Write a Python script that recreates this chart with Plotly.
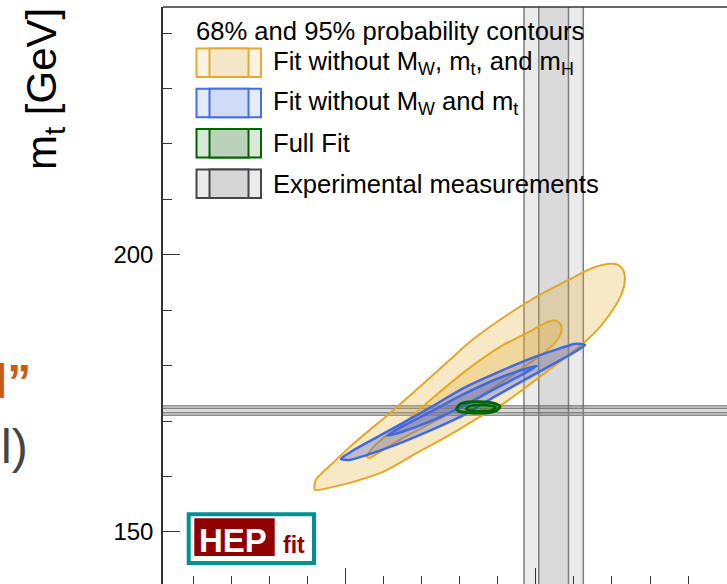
'''
    Builds the HEPfit-style M_W vs m_t plane: 68% and 95% probability
    contours of three fits on top of the experimental measurement bands.
'''

import plotly.graph_objects as go

# experimental measurements [GeV]
MW_EXP = 80.4093
MW_ERR = 0.0078
MT_EXP = 171.9
MT_ERR = 0.42

# contours, M_W [GeV] and m_t [GeV]
ORANGE_95_MW = [80.2837, 80.2842, 80.2932, 80.3021, 80.3126, 80.3216, 80.3389,
                80.3547, 80.3653, 80.3811, 80.3984, 80.4163, 80.4300, 80.4389,
                80.4432, 80.4458, 80.4468, 80.4453, 80.4405, 80.4337, 80.4253,
                80.4021, 80.3811, 80.3705, 80.3547, 80.3374, 80.3195, 80.3021,
                80.2932, 80.2837]
ORANGE_95_MT = [157.58, 159.39, 162.45, 165.34, 168.41, 170.94, 176.17,
                181.05, 184.30, 188.27, 192.06, 195.31, 197.65, 198.38,
                198.19, 197.29, 195.85, 193.14, 190.07, 187.00, 184.12,
                177.98, 172.74, 170.76, 167.51, 164.26, 160.83, 158.85,
                158.12, 157.58]

ORANGE_68_MW = [80.3111, 80.3137, 80.3205, 80.3284, 80.3458, 80.3637, 80.3811,
                80.3984, 80.4063, 80.4105, 80.4132, 80.4132, 80.4105, 80.4021,
                80.3900, 80.3758, 80.3600, 80.3442, 80.3284, 80.3179, 80.3126,
                80.3111]
ORANGE_68_MT = [163.54, 164.98, 167.15, 168.95, 174.19, 179.24, 183.39,
                186.46, 187.91, 188.09, 187.36, 185.92, 184.30, 181.77,
                178.88, 175.63, 172.38, 169.49, 166.61, 164.44, 163.36,
                163.54]

BLUE_95_MW = [80.2974, 80.3021, 80.3126, 80.3284, 80.3458, 80.3616, 80.3811,
              80.3984, 80.4126, 80.4211, 80.4258, 80.4211, 80.4105, 80.3947,
              80.3774, 80.3616, 80.3421, 80.3247, 80.3105, 80.3021, 80.2974]
BLUE_95_MT = [163.18, 164.33, 166.39, 169.35, 172.71, 175.90, 178.97,
              181.43, 183.12, 183.94, 183.75, 182.60, 180.54, 177.58,
              174.22, 171.03, 167.96, 165.51, 163.81, 162.99, 163.18]

BLUE_68_MW = [80.3216, 80.3284, 80.3442, 80.3611, 80.3784, 80.3916, 80.4005,
              80.3937, 80.3779, 80.3611, 80.3437, 80.3305, 80.3216]
BLUE_68_MT = [167.33, 168.75, 171.60, 174.70, 177.45, 179.12, 179.96,
              178.55, 175.70, 172.60, 169.85, 168.17, 167.33]

GREEN_95_MW = [80.3582, 80.3600, 80.3642, 80.3695, 80.3747, 80.3789, 80.3811,
               80.3795, 80.3753, 80.3695, 80.3637, 80.3595, 80.3582]
GREEN_95_MT = [172.20, 173.01, 173.43, 173.50, 173.41, 173.10, 172.65,
               171.93, 171.52, 171.43, 171.52, 171.75, 172.20]

GREEN_68_MW = [80.3632, 80.3653, 80.3711, 80.3768, 80.3789, 80.3768, 80.3711,
               80.3653, 80.3632]
GREEN_68_MT = [172.20, 172.74, 172.89, 172.74, 172.47, 171.93, 171.79,
               171.89, 172.20]

LEGEND_TITLE = '68% and 95% probability contours'
LEGEND_LABELS = ['Fit without M<sub>W</sub>, m<sub>t</sub>, and m<sub>H</sub>',
                 'Fit without M<sub>W</sub> and m<sub>t</sub>',
                 'Full Fit',
                 'Experimental measurements']

FONT = 'Liberation Sans, Arial, Helvetica, sans-serif'

# plot area in pixels (left, top, width, height)
PLOT_L, PLOT_T, PLOT_W, PLOT_H = 163, 7, 564, 577


def px(x):
    '''Pixel column -> paper x.'''
    return (x - PLOT_L) / PLOT_W


def py(y):
    '''Pixel row -> paper y.'''
    return (PLOT_T + PLOT_H - y) / PLOT_H


def init_figure():
    '''
        Sets up the axes so that only the left axis and the top frame
        are drawn, with inward ticks like the ROOT original.
    '''
    fig = go.Figure()
    fig.update_layout(
        width=727, height=584,
        margin=dict(l=PLOT_L, r=0, t=PLOT_T, b=0),
        paper_bgcolor='white', plot_bgcolor='white',
        font=dict(family=FONT, color='black'),
        showlegend=False,
        dragmode=False,
    )
    fig.update_xaxes(range=[80.2038, 80.5005], showgrid=False, zeroline=False,
                     showline=False, showticklabels=False,
                     ticks='inside', tick0=80.0, dtick=0.1, ticklen=16,
                     tickcolor='#333', tickwidth=1,
                     minor=dict(ticks='inside', dtick=0.02, ticklen=8,
                                tickcolor='#333', tickwidth=1))
    fig.update_yaxes(range=[140.6, 244.7], showgrid=False, zeroline=False,
                     showline=True, linecolor='#333', linewidth=1.5,
                     ticks='inside', tick0=0, dtick=50, ticklen=17,
                     tickcolor='#333', tickwidth=1,
                     ticklabelstandoff=3,
                     tickfont=dict(size=24, color='black'),
                     minor=dict(ticks='inside', dtick=10, ticklen=9,
                                tickcolor='#333', tickwidth=1))
    # top frame line
    fig.add_shape(type='line', xref='paper', yref='paper', x0=0, x1=1, y0=1, y1=1,
                  line=dict(color='#333', width=1.5), layer='above')
    return fig


def draw_bands(fig):
    '''Draws the 1 and 2 sigma bands of the measured M_W and m_t.'''
    band_fill = 'rgba(128,128,128,0.16)'
    band_line = dict(color='rgb(125,125,125)', width=1.5)
    for k in (2, 1):
        fig.add_vrect(x0=MW_EXP - k * MW_ERR, x1=MW_EXP + k * MW_ERR,
                      fillcolor=band_fill, line_width=0, layer='below')
        fig.add_hrect(y0=MT_EXP - k * MT_ERR, y1=MT_EXP + k * MT_ERR,
                      fillcolor=band_fill, line_width=0, layer='below')
    for k in (-2, -1, 1, 2):
        fig.add_vline(x=MW_EXP + k * MW_ERR, line=band_line, layer='below')
        fig.add_hline(y=MT_EXP + k * MT_ERR,
                      line=dict(color='rgb(90,90,90)', width=1), layer='below')
    return fig


def add_contour(fig, mw, mt, line_color, fill_color, width):
    '''Adds one filled probability contour.'''
    fig.add_trace(go.Scatter(x=mw, y=mt, mode='lines', fill='toself',
                             fillcolor=fill_color,
                             line=dict(color=line_color, width=width,
                                       shape='spline', smoothing=0.7),
                             hoverinfo='skip'))


def draw_contours(fig):
    orange, blue, green = 'rgb(226,168,40)', 'rgb(65,105,225)', 'rgb(0,100,0)'
    add_contour(fig, ORANGE_95_MW, ORANGE_95_MT, orange, 'rgba(225,170,45,0.27)', 2)
    add_contour(fig, ORANGE_68_MW, ORANGE_68_MT, orange, 'rgba(225,170,45,0.27)', 2)
    add_contour(fig, BLUE_95_MW, BLUE_95_MT, blue, 'rgba(80,100,210,0.33)', 2.5)
    add_contour(fig, BLUE_68_MW, BLUE_68_MT, blue, 'rgba(80,100,210,0.33)', 2.5)
    add_contour(fig, GREEN_95_MW, GREEN_95_MT, green, 'rgba(0,110,0,0.25)', 3)
    add_contour(fig, GREEN_68_MW, GREEN_68_MT, green, 'rgba(0,110,0,0.25)', 2.5)
    return fig


def draw_legend(fig):
    '''Hand-made legend: boxes with a dark 68% core and light 95% sides.'''
    colors = [('rgb(226,170,50)', 'rgb(250,243,228)', 'rgb(245,232,200)'),
              ('rgb(70,110,228)', 'rgb(228,235,250)', 'rgb(208,220,246)'),
              ('rgb(0,100,0)', 'rgb(218,232,218)', 'rgb(185,210,185)'),
              ('rgb(70,70,70)', 'rgb(235,235,235)', 'rgb(214,214,214)')]
    fig.add_annotation(text=LEGEND_TITLE, xref='paper', yref='paper',
                       x=px(194), y=py(31.5), xanchor='left', yanchor='middle',
                       showarrow=False, font=dict(size=25.6))
    for i, (label, (edge, light, dark)) in enumerate(zip(LEGEND_LABELS, colors)):
        top = 48.5 + 40.3 * i
        bot = top + 28.5
        fig.add_shape(type='rect', xref='paper', yref='paper',
                      x0=px(196.5), x1=px(261), y0=py(bot), y1=py(top),
                      fillcolor=light, line=dict(color=edge, width=2), layer='above')
        fig.add_shape(type='rect', xref='paper', yref='paper',
                      x0=px(209.5), x1=px(248.5), y0=py(bot), y1=py(top),
                      fillcolor=dark, line=dict(color=edge, width=2), layer='above')
        fig.add_annotation(text=label, xref='paper', yref='paper',
                           x=px(270.5), y=py((top + bot) / 2), xanchor='left',
                           yanchor='middle', showarrow=False, font=dict(size=25.6))
    return fig


def draw_decorations(fig):
    '''Axis title, HEPfit logo and the cut-off slide text on the left.'''
    fig.add_annotation(text='m<sub>t</sub> [GeV]', xref='paper', yref='paper',
                       x=px(44), y=py(89), textangle=-90, showarrow=False,
                       xanchor='center', yanchor='middle', font=dict(size=42))
    # logo
    fig.add_shape(type='rect', xref='paper', yref='paper',
                  x0=px(188.7), x1=px(314), y0=py(563), y1=py(514.3),
                  fillcolor='white', line=dict(color='rgb(0,146,146)', width=4),
                  layer='above')
    fig.add_shape(type='rect', xref='paper', yref='paper',
                  x0=px(194.3), x1=px(274.7), y0=py(556), y1=py(518.3),
                  fillcolor='rgb(145,0,0)', line_width=0, layer='above')
    fig.add_annotation(text='<b>HEP</b>', xref='paper', yref='paper',
                       x=px(233), y=py(540), xanchor='center', yanchor='middle',
                       showarrow=False, font=dict(size=33, color='white'))
    fig.add_annotation(text='<b>fit</b>', xref='paper', yref='paper',
                       x=px(281), y=py(545), xanchor='left', yanchor='middle',
                       showarrow=False, font=dict(size=23, color='rgb(145,0,0)'))
    # text of the slide behind the figure, cut by the crop
    fig.add_annotation(text='<b>l”</b>', xref='paper', yref='paper',
                       x=px(33), y=py(381), xanchor='right', yanchor='middle',
                       showarrow=False, font=dict(size=48, color='rgb(200,92,22)'))
    fig.add_annotation(text='l)', xref='paper', yref='paper',
                       x=px(30), y=py(446), xanchor='right', yanchor='middle',
                       showarrow=False, font=dict(size=48, color='rgb(68,68,68)'))
    return fig


fig = init_figure()
fig = draw_bands(fig)
fig = draw_contours(fig)
fig = draw_legend(fig)
fig = draw_decorations(fig)
# the page margin would shift the fixed-size figure by 8 px
fig.write_html("out.html",
               config={'displayModeBar': False},
               post_script="document.body.style.margin='0';"
                           "document.body.style.overflow='hidden';")
